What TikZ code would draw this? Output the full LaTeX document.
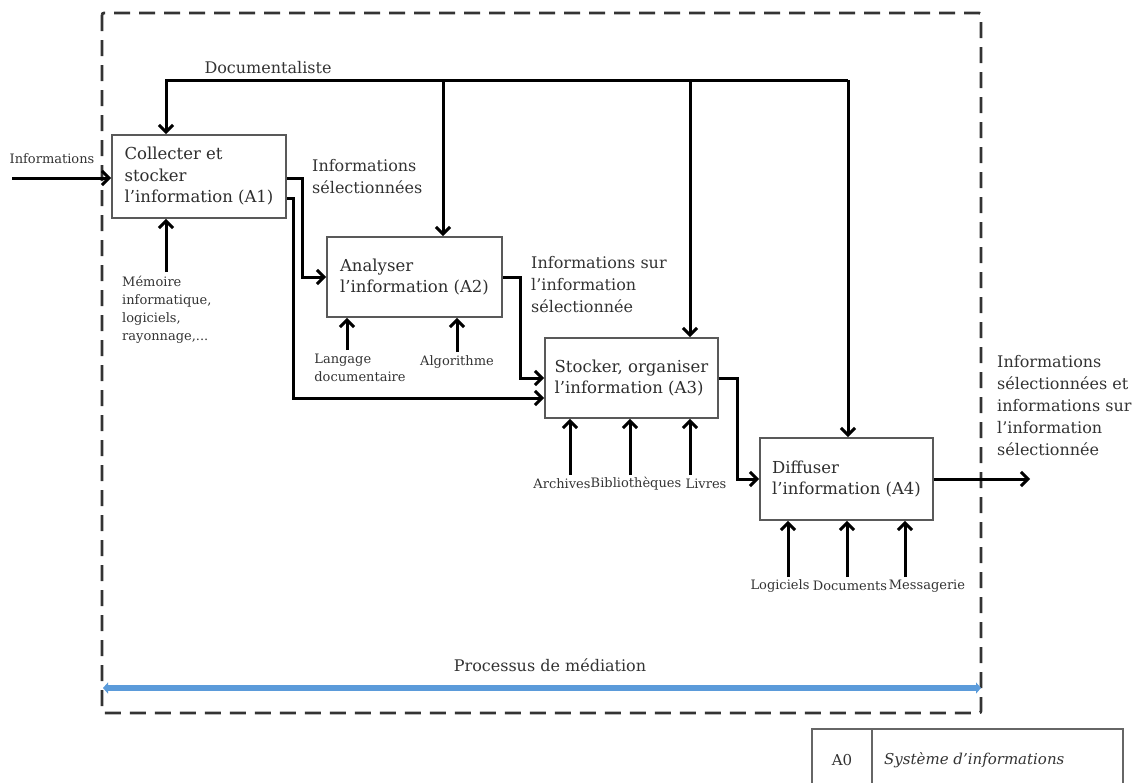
\documentclass[tikz,border=0pt]{standalone}
\usepackage{fontspec}
\setmainfont{DejaVu Serif}
\usetikzlibrary{arrows.meta}
\definecolor{medblue}{RGB}{91,155,218}
\tikzset{
  procbox/.style={draw=black!65, line width=1.8pt, fill=white, align=left, inner sep=0pt,
     font=\fontsize{16.5}{21.5}\selectfont, text=black!82},
  flow/.style={draw=black, line width=3pt, -{Straight Barb[length=7pt,width=14pt]}},
  biglbl/.style={font=\fontsize{16}{22}\selectfont, text=black!80, align=left, inner sep=0pt},
  smalllbl/.style={font=\fontsize{13}{18}\selectfont, text=black!80, align=left, inner sep=0pt},
  frameline/.style={draw=black!80, line width=2.8pt, dash pattern=on 16pt off 9pt, rounded corners=2pt},
  medarrow/.style={draw=medblue, line width=6pt, {Triangle[length=5pt,width=11pt]}-{Triangle[length=5pt,width=11pt]}},
  legendline/.style={draw=black!60, line width=1.5pt},
  legendtxt/.style={font=\fontsize{15}{18}\selectfont, text=black!80, inner sep=0pt}
}
\begin{document}
\begin{tikzpicture}[x=1pt,y=-1pt]
\useasboundingbox (0,0) rectangle (1135,782);
% frame
\draw[frameline] (102,13) rectangle (981,713);
% boxes
\node[procbox, minimum width=174pt, minimum height=83pt] (a1) at (199,176.5) {Collecter et\\stocker\\l’information (A1)};
\node[procbox, minimum width=175pt, minimum height=80pt] (a2) at (414.5,277) {Analyser\\l’information (A2)};
\node[procbox, minimum width=173pt, minimum height=80pt] (a3) at (631.5,378) {Stocker, organiser\\l’information (A3)};
\node[procbox, minimum width=173pt, minimum height=82pt] (a4) at (846.5,479) {Diffuser\\l’information (A4)};
% documentaliste control
\coordinate (dl) at (166,80);
\coordinate (d2) at (443,80);
\coordinate (d3) at (690,80);
\coordinate (dr) at (848,80);
\draw[flow] (dr) -- (dl) -- (dl |- a1.north);
\draw[flow] (d2) -- (d2 |- a2.north);
\draw[flow] (d3) -- (d3 |- a3.north);
\draw[flow] (dr) -- (dr |- a4.north);
\node[biglbl] (doclbl) at (268,68) {Documentaliste};
% input
\coordinate (inL) at (12,178);
\draw[flow] (inL) -- (inL -| a1.west);
\node[smalllbl] (inlbl) at (52,159) {Informations};
% A1 -> A2
\coordinate (j1) at (302,178);
\draw[flow] (a1.east |- j1) -- (j1) -- (j1 |- a2.west) -- (a2.west);
% A1 -> A3
\coordinate (j2a) at (293,198);
\coordinate (j2b) at (293,398);
\draw[flow] (a1.east |- j2a) -- (j2a) -- (j2b) -- (a3.west |- j2b);
\node[biglbl, anchor=west] (sel) at (312,177) {Informations\\sélectionnées};
% A2 -> A3
\coordinate (j3) at (520,300);
\draw[flow] (a2.east) -- (a2.east -| j3) -- (j3 |- a3.west) -- (a3.west);
\node[biglbl, anchor=west] (surlbl) at (531,285) {Informations sur\\l’information\\sélectionnée};
% A3 -> A4
\coordinate (j4) at (737,400);
\draw[flow] (a3.east) -- (a3.east -| j4) -- (j4 |- a4.west) -- (a4.west);
% A4 output
\coordinate (outR) at (1030,479);
\draw[flow] (a4.east) -- (outR);
\node[biglbl, anchor=west] (outlbl) at (997,406) {Informations\\sélectionnées et\\informations sur\\l’information\\sélectionnée};
% mechanisms A1
\coordinate (m1) at (166,272);
\draw[flow] (m1) -- (m1 |- a1.south);
\node[smalllbl, anchor=north west] (memlbl) at (122,276) {Mémoire\\informatique,\\logiciels,\\rayonnage,...};
% mechanisms A2
\coordinate (m2a) at (347,350);
\coordinate (m2b) at (457,352);
\draw[flow] (m2a) -- (m2a |- a2.south);
\draw[flow] (m2b) -- (m2b |- a2.south);
\node[smalllbl] (langlbl) at (360,368) {Langage\\documentaire};
\node[smalllbl] (algolbl) at (457,362) {Algorithme};
% mechanisms A3
\coordinate (m3a) at (570,475);
\coordinate (m3b) at (630,475);
\coordinate (m3c) at (690,475);
\draw[flow] (m3a) -- (m3a |- a3.south);
\draw[flow] (m3b) -- (m3b |- a3.south);
\draw[flow] (m3c) -- (m3c |- a3.south);
\node[smalllbl] (arclbl) at (562,484) {Archives};
\node[smalllbl] (biblbl) at (636,484) {Bibliothèques};
\node[smalllbl] (livlbl) at (706,484) {Livres};
% mechanisms A4
\coordinate (m4a) at (788,577);
\coordinate (m4b) at (847,577);
\coordinate (m4c) at (905,577);
\draw[flow] (m4a) -- (m4a |- a4.south);
\draw[flow] (m4b) -- (m4b |- a4.south);
\draw[flow] (m4c) -- (m4c |- a4.south);
\node[smalllbl] (logilbl) at (780,586) {Logiciels};
\node[smalllbl] (doclbl2) at (850,586) {Documents};
\node[smalllbl] (meslbl) at (927,586) {Messagerie};
% mediation
\coordinate (pl) at (103,688);
\coordinate (pr) at (981,688);
\draw[medarrow] (pl) -- (pr);
\node[biglbl] (medlbl) at (550,665) {Processus de médiation};
% legend
\draw[legendline] (812,790) -- (812,729) -- (1123,729) -- (1123,790);
\draw[legendline] (872,729) -- (872,790);
\node[legendtxt] (a0lbl) at (842,760) {A0};
\node[legendtxt, anchor=west, font=\fontsize{15}{18}\itshape] (syslbl) at (884,760) {Système d’informations};
\end{tikzpicture}
\end{document}
